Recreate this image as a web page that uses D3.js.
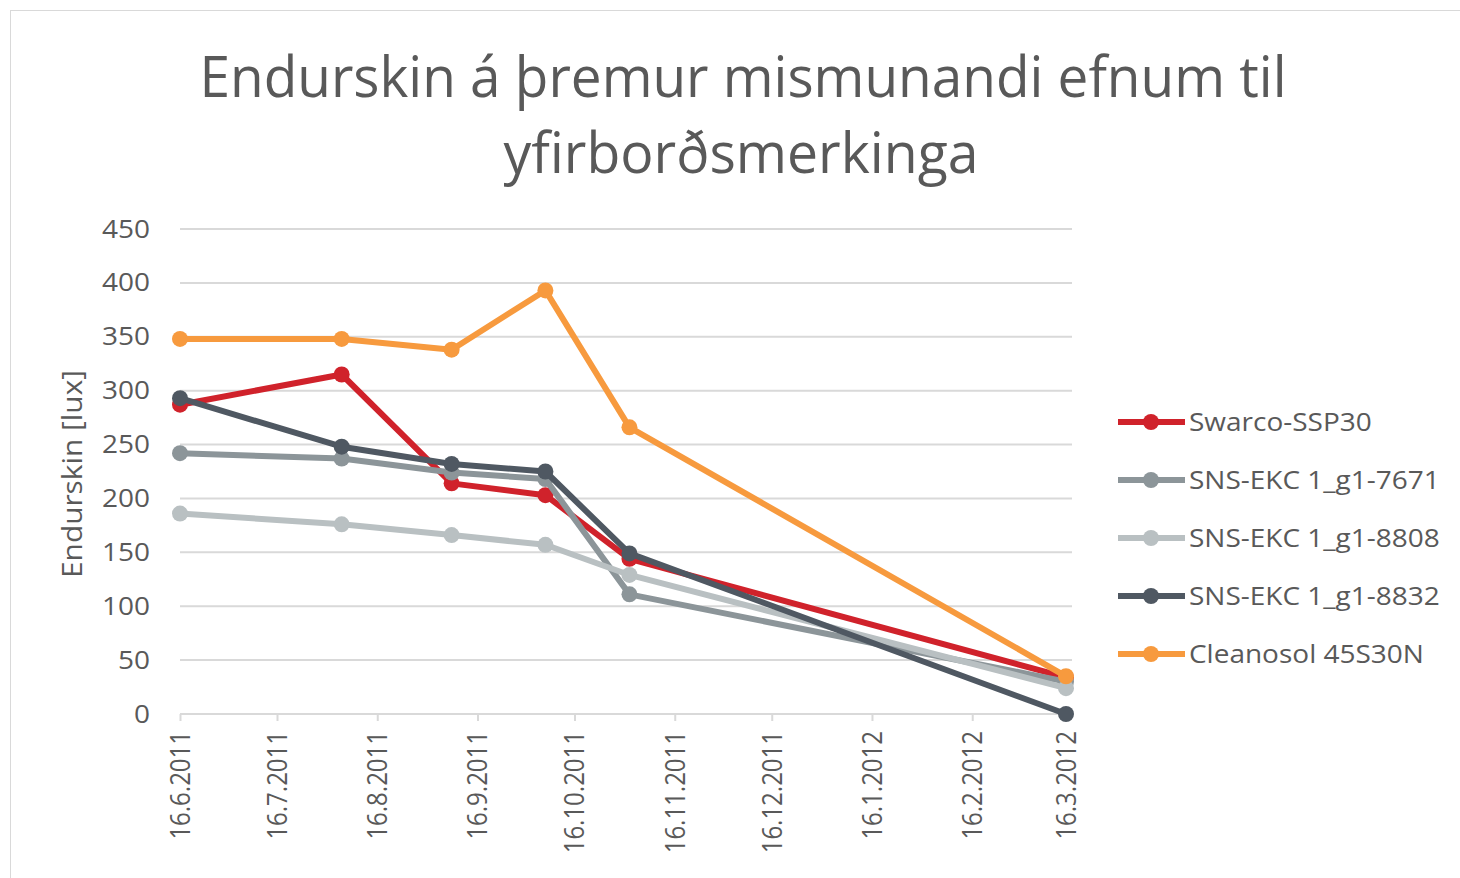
<!DOCTYPE html>
<html>
<head>
<meta charset="utf-8">
<script src="https://cdn.jsdelivr.net/npm/d3@7"></script>
<style>
  body { margin: 0; background: #fff; }
  svg { display: block; font-family: "Open Sans", sans-serif; }
</style>
</head>
<body>
<svg id="chart" width="1460" height="878"></svg>
<script>
// measurement dates (d.m.yyyy)
const dates = ['16.6.2011', '5.8.2011', '8.9.2011', '7.10.2011', '2.11.2011', '16.3.2012'];
const tickLabels = ['16.6.2011', '16.7.2011', '16.8.2011', '16.9.2011', '16.10.2011',
    '16.11.2011', '16.12.2011', '16.1.2012', '16.2.2012', '16.3.2012'];
const yTicks = [0, 50, 100, 150, 200, 250, 300, 350, 400, 450];

const seriesNames = ['Swarco-SSP30', 'SNS-EKC 1_g1-7671', 'SNS-EKC 1_g1-8808', 'SNS-EKC 1_g1-8832', 'Cleanosol 45S30N'];
const swarco = [287, 315, 214, 203, 144, 34];
const sns7671 = [242, 237, 224, 218, 111, 30];
const sns8808 = [186, 176, 166, 157, 129, 24];
const sns8832 = [293, 248, 232, 225, 149, 0];
const cleanosol = [348, 348, 338, 393, 266, 35];
const colors = ['#d0222b', '#8c9599', '#b9c0c2', '#4f5862', '#f79a3e'];

const parse = d3.timeParse('%d.%m.%Y');
const series = [swarco, sns7671, sns8808, sns8832, cleanosol].map((vals, i) => ({
    name: seriesNames[i],
    color: colors[i],
    points: vals.map((v, j) => ({ date: parse(dates[j]), value: v })),
}));

const textColor = '#595959';
// the original is a bit wider than tall, so text is stretched sideways
const stretch = 1.12;
const svg = d3.select('#chart');

// outer chart frame
svg.append('rect')
    .attr('x', 10.5).attr('y', 10.5)
    .attr('width', 1470).attr('height', 880)
    .attr('fill', '#fff')
    .attr('stroke', '#d9d9d9');

// title
const title = svg.append('g').attr('fill', textColor).attr('text-anchor', 'middle')
    .style('font-size', '56px');
title.append('text').attr('x', 743).attr('y', 97)
    .attr('textLength', 1087).attr('lengthAdjust', 'spacingAndGlyphs')
    .text('Endurskin á þremur mismunandi efnum til');
title.append('text').attr('x', 741).attr('y', 173)
    .attr('textLength', 475).attr('lengthAdjust', 'spacingAndGlyphs')
    .text('yfirborðsmerkinga');

const x = d3.scaleTime()
    .domain([parse(tickLabels[0]), parse(tickLabels[tickLabels.length - 1])])
    .range([180, 1066]);
const y = d3.scaleLinear().domain([0, 450]).range([714, 229]);

// gridlines
svg.append('g')
    .selectAll('line')
    .data(yTicks.filter(d => d > 0))
    .join('line')
    .attr('x1', 180).attr('x2', 1072)
    .attr('y1', d => y(d)).attr('y2', d => y(d))
    .attr('stroke', '#d9d9d9')
    .attr('stroke-width', 2);

// y axis labels
const yAxis = svg.append('g')
    .attr('transform', 'translate(150,0)')
    .call(d3.axisLeft(y).tickValues(yTicks).tickSize(0).tickPadding(0));
yAxis.select('.domain').remove();
yAxis.selectAll('text').attr('fill', textColor).style('font-size', '25px')
    .style('font-family', '"Open Sans", sans-serif')
    .attr('x', 0)
    .attr('transform', `scale(${ stretch },1)`);

// x axis
const xAxis = svg.append('g')
    .attr('transform', `translate(0,${ y(0) })`)
    .call(d3.axisBottom(x)
        .tickValues(tickLabels.map(parse))
        .tickFormat(d3.timeFormat('%-d.%-m.%Y'))
        .tickSizeInner(7).tickSizeOuter(0));
xAxis.select('.domain').attr('stroke', '#d9d9d9').attr('stroke-width', 2)
    .attr('d', `M180,0H1072`);
xAxis.selectAll('.tick line').attr('stroke', '#d9d9d9').attr('stroke-width', 2);
xAxis.selectAll('text')
    .attr('fill', textColor)
    .style('font-size', '24px')
    .style('font-family', '"Open Sans", sans-serif')
    .attr('text-anchor', 'end')
    .attr('transform', `rotate(-90) scale(1,${ stretch })`)
    .attr('x', -17).attr('y', 0).attr('dy', '0.35em');

// y axis title
svg.append('text')
    .attr('transform', 'translate(73,474) rotate(-90)')
    .attr('text-anchor', 'middle')
    .attr('dy', '0.35em')
    .attr('fill', textColor)
    .style('font-size', '27px')
    .attr('textLength', 208).attr('lengthAdjust', 'spacingAndGlyphs')
    .text('Endurskin [lux]');

// series
const line = d3.line().x(d => x(d.date)).y(d => y(d.value));
const seriesG = svg.append('g').selectAll('g').data(series).join('g');
seriesG.append('path')
    .attr('d', d => line(d.points))
    .attr('fill', 'none')
    .attr('stroke', d => d.color)
    .attr('stroke-width', 6)
    .attr('stroke-linejoin', 'round');
seriesG.selectAll('circle')
    .data(d => d.points.map(p => ({ ...p, color: d.color })))
    .join('circle')
    .attr('cx', d => x(d.date))
    .attr('cy', d => y(d.value))
    .attr('r', 8)
    .attr('fill', d => d.color);

// legend
const legend = svg.append('g').selectAll('g').data(series).join('g')
    .attr('transform', (d, i) => `translate(1118,${ 422 + i * 58 })`);
legend.append('line')
    .attr('x1', 0).attr('x2', 67)
    .attr('stroke', d => d.color).attr('stroke-width', 6);
legend.append('circle').attr('cx', 33).attr('r', 8).attr('fill', d => d.color);
legend.append('text')
    .attr('x', 71 / stretch).attr('dy', '0.35em')
    .attr('transform', `scale(${ stretch },1)`)
    .attr('fill', textColor)
    .style('font-size', '25px')
    .text(d => d.name);
</script>
</body>
</html>
